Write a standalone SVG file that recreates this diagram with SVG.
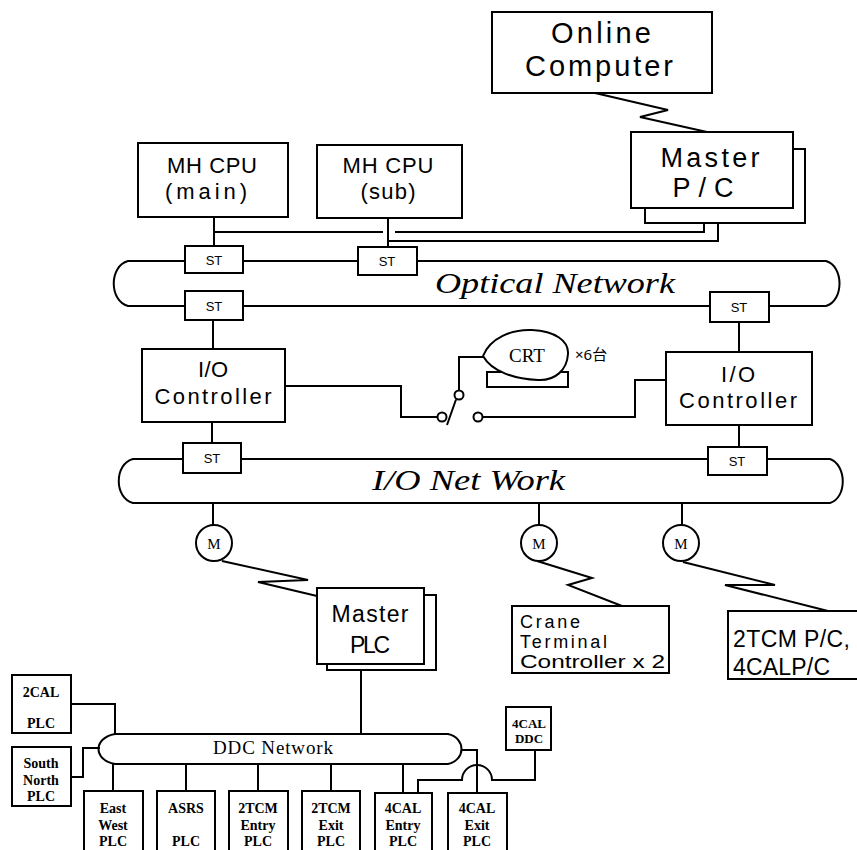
<svg xmlns="http://www.w3.org/2000/svg" width="857" height="850" viewBox="0 0 857 850">
<style>
.bx{fill:#fff;stroke:#000;stroke-width:2}
.ln{fill:none;stroke:#000;stroke-width:2}
.net{fill:none;stroke:#000;stroke-width:2}
.s{font-family:"Liberation Sans",Arial,sans-serif;fill:#000;text-anchor:middle}
.sl{font-family:"Liberation Sans",Arial,sans-serif;fill:#000}
.st{font-family:"Liberation Sans",sans-serif;font-size:13px;fill:#000;text-anchor:middle}
.it{font-family:"Liberation Serif",serif;font-style:italic;fill:#000}
.sf{font-family:"Liberation Serif",serif;fill:#000;text-anchor:middle;font-weight:bold}
.m{font-family:"Liberation Serif",serif;fill:#000;text-anchor:middle}
</style>

<g id="connectors">
  <polyline class="ln" points="595,93 668,110 640,117 707,132"/>
  <path class="ln" d="M214,217V246 M388,218V247 M214,232H383 M395,232H704V208 M388,241H718V223"/>
  <path class="ln" d="M213,320V349 M739,322V352 M212,422V443 M739,425V447"/>
  <path class="ln" d="M285,386H401V417H437.5 M482.5,417H635V380H666"/>
  <path class="ln" d="M459,390.5V357H484"/>
  <line class="ln" x1="447" y1="425" x2="456" y2="399.5"/>
  <path class="ln" d="M213,503V525 M539,503V525 M682,503V525"/>
  <polyline class="ln" points="222,561 308,580 258,582 317,596"/>
  <polyline class="ln" points="537,561 592,578 568,585 622,606"/>
  <polyline class="ln" points="683,562 775,585 725,585 828,611"/>
  <path class="ln" d="M361,670V734"/>
  <path class="ln" d="M71,704H115V734 M71,777H83V748H100"/>
  <path class="ln" d="M113,764V791 M186,764V791 M258,764V791 M331,764V791 M403,764V793"/>
  <path class="ln" d="M461,750H477V793"/>
  <path class="ln" d="M535,750V780H492A15,15 0 0 0 462,780H418V793"/>
</g>

<g id="online-computer">
  <rect class="bx" x="492" y="12" width="220" height="81"/>
  <text class="s" x="601" y="43" font-size="29" textLength="100" lengthAdjust="spacing">Online</text>
  <text class="s" x="599" y="76" font-size="29" textLength="148" lengthAdjust="spacing">Computer</text>
</g>

<g id="master-pc">
  <rect class="bx" x="645" y="149" width="160" height="74"/>
  <rect class="bx" x="631" y="132" width="162" height="76"/>
  <text class="s" x="710" y="167" font-size="27" textLength="99" lengthAdjust="spacing">Master</text>
  <text class="s" x="703" y="197" font-size="27" textLength="61" lengthAdjust="spacing">P/C</text>
</g>

<g id="mh-cpu-main">
  <rect class="bx" x="138" y="143" width="150" height="74"/>
  <text class="s" x="212" y="173" font-size="22" textLength="90" lengthAdjust="spacing">MH CPU</text>
  <text class="s" x="206" y="199" font-size="22" textLength="82" lengthAdjust="spacing">(main)</text>
</g>

<g id="mh-cpu-sub">
  <rect class="bx" x="317" y="145" width="145" height="73"/>
  <text class="s" x="388" y="173" font-size="22" textLength="91" lengthAdjust="spacing">MH CPU</text>
  <text class="s" x="388" y="199" font-size="22" textLength="55" lengthAdjust="spacing">(sub)</text>
</g>

<g id="optical-network">
  <path class="net" d="M128,261H826C844,266 844,301 826,306H128C109,301 109,266 128,261Z"/>
  <text class="it" x="435" y="293" font-size="30" textLength="240" lengthAdjust="spacingAndGlyphs">Optical Network</text>
</g>

<g id="st-main"><rect class="bx" x="185" y="246" width="58" height="27"/><text class="st" x="214" y="265">ST</text></g>
<g id="st-sub"><rect class="bx" x="358" y="247" width="59" height="28"/><text class="st" x="387" y="266">ST</text></g>
<g id="st-opt-left"><rect class="bx" x="185" y="291" width="58" height="29"/><text class="st" x="214" y="311">ST</text></g>
<g id="st-opt-right"><rect class="bx" x="710" y="292" width="59" height="30"/><text class="st" x="739" y="312">ST</text></g>

<g id="io-controller-left">
  <rect class="bx" x="142" y="349" width="143" height="73"/>
  <text class="s" x="213" y="377" font-size="22" textLength="30" lengthAdjust="spacing">I/O</text>
  <text class="s" x="213" y="404" font-size="22" textLength="117" lengthAdjust="spacing">Controller</text>
</g>

<g id="io-controller-right">
  <rect class="bx" x="666" y="352" width="146" height="73"/>
  <text class="s" x="738" y="382" font-size="22" textLength="34" lengthAdjust="spacing">I/O</text>
  <text class="s" x="738" y="408" font-size="22" textLength="118" lengthAdjust="spacing">Controller</text>
</g>

<g id="switch">
  <circle class="bx" cx="442" cy="417" r="4.5"/>
  <circle class="bx" cx="478" cy="417" r="4.5"/>
  <circle class="bx" cx="459" cy="395" r="4.5"/>
</g>

<g id="crt">
  <rect class="bx" x="487" y="372" width="81" height="15"/>
  <path class="bx" d="M483,356C490,338 512,329 532,330C555,331 569,341 568,354C567,370 555,381 538,380C515,379 492,372 483,356Z"/>
  <text class="m" x="527" y="362" font-size="19">CRT</text>
  <text x="575" y="360" font-size="15" font-family="'Noto Sans','Noto Sans CJK JP',sans-serif">×6台</text>
</g>

<g id="io-network">
  <path class="net" d="M133,459H830C847,465 847,498 830,503H133C114,498 114,464 133,459Z"/>
  <text class="it" x="372" y="490" font-size="30" textLength="193" lengthAdjust="spacingAndGlyphs">I/O Net Work</text>
</g>

<g id="st-io-left"><rect class="bx" x="183" y="443" width="58" height="30"/><text class="st" x="212" y="463">ST</text></g>
<g id="st-io-right"><rect class="bx" x="708" y="447" width="59" height="28"/><text class="st" x="737" y="466">ST</text></g>

<g id="modem-1"><circle class="bx" cx="214" cy="543" r="18"/><text class="m" x="214" y="549" font-size="15">M</text></g>
<g id="modem-2"><circle class="bx" cx="539" cy="543" r="18"/><text class="m" x="539" y="549" font-size="15">M</text></g>
<g id="modem-3"><circle class="bx" cx="681" cy="543" r="18"/><text class="m" x="681" y="549" font-size="15">M</text></g>

<g id="master-plc">
  <rect class="bx" x="327" y="595" width="109" height="75"/>
  <rect class="bx" x="317" y="588" width="107" height="76"/>
  <text class="s" x="370" y="622" font-size="23" textLength="77" lengthAdjust="spacing">Master</text>
  <text class="s" x="370" y="653" font-size="23" textLength="40" lengthAdjust="spacing">PLC</text>
</g>

<g id="crane-terminal">
  <rect class="bx" x="512" y="606" width="157" height="67"/>
  <text class="sl" x="520" y="628" font-size="18" textLength="60" lengthAdjust="spacing">Crane</text>
  <text class="sl" x="520" y="648" font-size="18" textLength="87" lengthAdjust="spacing">Terminal</text>
  <text class="sl" x="520" y="668" font-size="18" textLength="145" lengthAdjust="spacingAndGlyphs">Controller x 2</text>
</g>

<g id="tcm-cal-pc">
  <path class="bx" d="M858,611H728V679H858"/>
  <text class="sl" x="733" y="647" font-size="23" textLength="117" lengthAdjust="spacing">2TCM P/C,</text>
  <text class="sl" x="733" y="675" font-size="23" textLength="97" lengthAdjust="spacing">4CALP/C</text>
</g>

<g id="ddc-network">
  <path class="net" d="M115,734H448C466,738 466,760 448,764H115C93,760 93,738 115,734Z"/>
  <text x="213" y="754" font-size="19" font-family="'Liberation Serif',serif" textLength="120" lengthAdjust="spacing">DDC Network</text>
</g>

<g id="plc-2cal">
  <rect class="bx" x="12" y="675" width="59" height="58"/>
  <text class="sf" x="41" y="697" font-size="14">2CAL</text>
  <text class="sf" x="41" y="728" font-size="14">PLC</text>
</g>
<g id="plc-south-north">
  <rect class="bx" x="12" y="747" width="59" height="59"/>
  <text class="sf" x="41" y="768" font-size="14">South</text>
  <text class="sf" x="41" y="785" font-size="14">North</text>
  <text class="sf" x="41" y="801" font-size="14">PLC</text>
</g>
<g id="plc-east-west">
  <rect class="bx" x="84" y="791" width="59" height="62"/>
  <text class="sf" x="113" y="813" font-size="14">East</text>
  <text class="sf" x="113" y="830" font-size="14">West</text>
  <text class="sf" x="113" y="846" font-size="14">PLC</text>
</g>
<g id="plc-asrs">
  <rect class="bx" x="157" y="791" width="58" height="62"/>
  <text class="sf" x="186" y="813" font-size="14">ASRS</text>
  <text class="sf" x="186" y="846" font-size="14">PLC</text>
</g>
<g id="plc-2tcm-entry">
  <rect class="bx" x="229" y="791" width="59" height="62"/>
  <text class="sf" x="258" y="813" font-size="14">2TCM</text>
  <text class="sf" x="258" y="830" font-size="14">Entry</text>
  <text class="sf" x="258" y="846" font-size="14">PLC</text>
</g>
<g id="plc-2tcm-exit">
  <rect class="bx" x="302" y="791" width="58" height="62"/>
  <text class="sf" x="331" y="813" font-size="14">2TCM</text>
  <text class="sf" x="331" y="830" font-size="14">Exit</text>
  <text class="sf" x="331" y="846" font-size="14">PLC</text>
</g>
<g id="plc-4cal-entry">
  <rect class="bx" x="375" y="793" width="57" height="60"/>
  <text class="sf" x="403" y="813" font-size="14">4CAL</text>
  <text class="sf" x="403" y="830" font-size="14">Entry</text>
  <text class="sf" x="403" y="846" font-size="14">PLC</text>
</g>
<g id="plc-4cal-exit">
  <rect class="bx" x="448" y="793" width="59" height="60"/>
  <text class="sf" x="477" y="813" font-size="14">4CAL</text>
  <text class="sf" x="477" y="830" font-size="14">Exit</text>
  <text class="sf" x="477" y="846" font-size="14">PLC</text>
</g>
<g id="ddc-4cal">
  <rect class="bx" x="506" y="707" width="45" height="43"/>
  <text class="sf" x="529" y="728" font-size="13">4CAL</text>
  <text class="sf" x="529" y="743" font-size="13">DDC</text>
</g>
</svg>
